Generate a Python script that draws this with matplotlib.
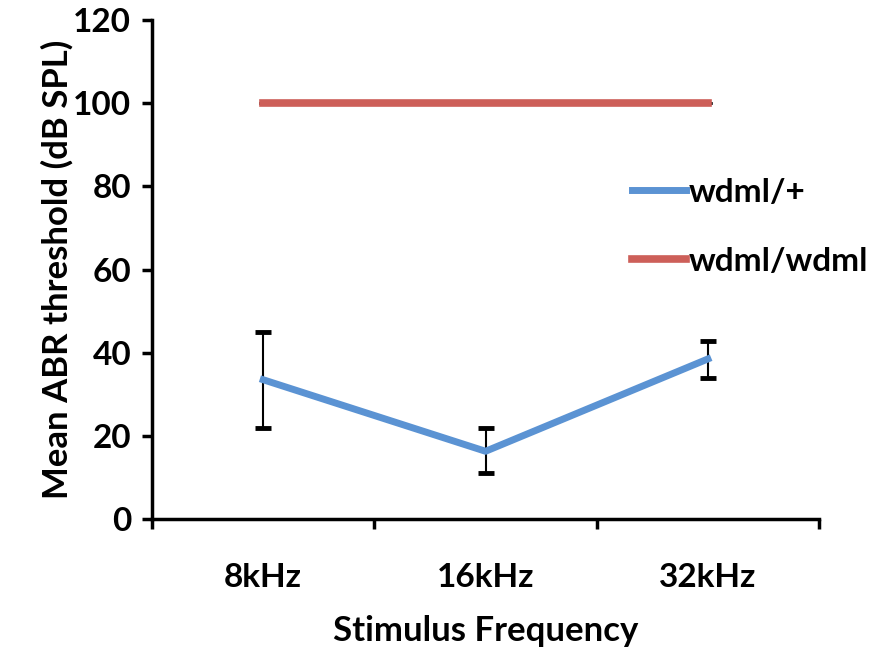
import matplotlib
matplotlib.use("Agg")
import matplotlib.pyplot as plt
from matplotlib.lines import Line2D
import numpy as np

# data
categories = ["8kHz", "16kHz", "32kHz"]
het_mean = [33.5, 16.3, 38.5]
het_err_low = [11.6, 5.2, 4.6]
het_err_high = [11.6, 5.6, 4.3]
hom_mean = [100, 100, 100]
hom_err = [0, 0, 0]

plt.rcParams['font.family'] = ['Lato', 'DejaVu Sans']
plt.rcParams['font.weight'] = 'bold'

fig = plt.figure(figsize=(8.69, 6.48), dpi=100)
ax = fig.add_axes([0.175, 0.199, 0.7675, 0.77])

blue = '#5b93d3'
red = '#cd5f59'

x = np.arange(len(categories))
ax.errorbar(x, het_mean, yerr=[het_err_low, het_err_high], color=blue,
            lw=5, ecolor='black', elinewidth=1.5, capsize=6, capthick=3.5,
            label='wdml/+', zorder=3)
ax.errorbar(x, hom_mean, yerr=hom_err, color=red, lw=5.5,
            ecolor='black', elinewidth=1, capsize=3, capthick=2,
            label='wdml/wdml', zorder=3)

ax.set_xlim(-0.5, 2.5)
ax.set_ylim(0, 120)
ax.set_yticks(range(0, 121, 20))
ax.set_xticks([-0.5, 0.5, 1.5, 2.5])
ax.set_xticklabels([])
ax.set_xticks(x, minor=True)
ax.set_xticklabels(categories, minor=True)
ax.tick_params(axis='x', which='minor', length=0, pad=32, labelsize=24)
ax.tick_params(axis='x', which='major', length=7, width=2.5, direction='out')
ax.tick_params(axis='y', length=7, width=2.5, direction='out', pad=8, labelsize=24)

for s in ['top', 'right']:
    ax.spines[s].set_visible(False)
for s in ['left', 'bottom']:
    ax.spines[s].set_linewidth(2.5)

ax.set_ylabel("Mean ABR threshold (dB SPL)", fontsize=25, fontweight='bold', labelpad=0)
ax.set_xlabel("Stimulus Frequency", fontsize=25, fontweight='bold', labelpad=16)

hl = [Line2D([], [], color=blue, lw=5), Line2D([], [], color=red, lw=5.5)]
ax.legend(hl, ['wdml/+', 'wdml/wdml'], loc='center left', bbox_to_anchor=(0.72, 0.585),
          frameon=False, fontsize=24, handlelength=1.6, handletextpad=0.1,
          labelspacing=1.2, borderaxespad=0, borderpad=0)

fig.savefig("out.png", dpi=100)
